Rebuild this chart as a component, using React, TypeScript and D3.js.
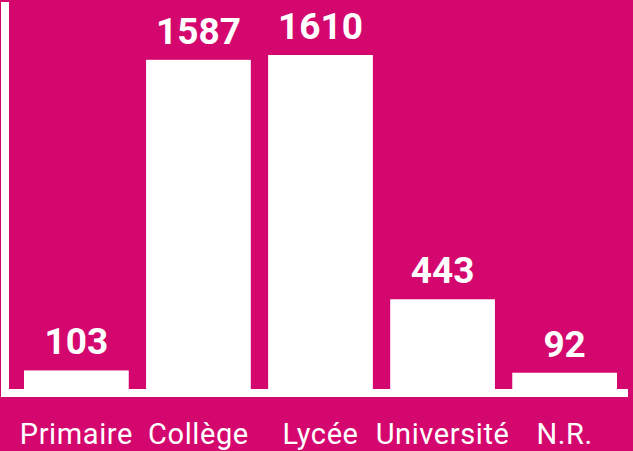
import React from "react";
import * as d3 from "d3";

const categories = ["Primaire", "Collège", "Lycée", "Université", "N.R."];
const values = [103, 1587, 1610, 443, 92];

const W = 633;
const H = 451;
const bg = "#d4076f";
const baseline = 389;

export default function App() {
  const x = d3.scaleBand<string>()
    .domain(categories)
    .range([24, 617])
    .paddingInner(0.142)
    .paddingOuter(0);

  const y = d3.scaleLinear()
    .domain([0, 1610])
    .range([392, 55]);

  return (
    <div style={{ position: "fixed", left: 0, top: 0 }}>
      <svg width={W} height={H} style={{ display: "block" }}>
        <rect width={W} height={H} fill={bg} />
        {values.map((v, i) => (
          <rect
            key={i}
            x={x(categories[i])}
            y={y(v)}
            width={x.bandwidth()}
            height={baseline - y(v)}
            fill="#fff"
          />
        ))}
        {/* axes */}
        <rect x={1} y={2} width={8} height={395} fill="#fff" />
        <rect x={1} y={389} width={627} height={8} fill="#fff" />
        {values.map((v, i) => (
          <text
            key={"v" + i}
            x={x(categories[i])! + x.bandwidth() / 2}
            y={y(v) - 16}
            textAnchor="middle"
            fill="#fff"
            fontFamily="Roboto"
            fontWeight={700}
            fontSize={37}
          >
            {v}
          </text>
        ))}
        {categories.map((c, i) => (
          <text
            key={"c" + i}
            x={x(c)! + x.bandwidth() / 2}
            y={444}
            textAnchor="middle"
            fill="#fff"
            fontFamily="Roboto"
            fontSize={29}
            letterSpacing={0.6}
          >
            {c}
          </text>
        ))}
      </svg>
    </div>
  );
}
